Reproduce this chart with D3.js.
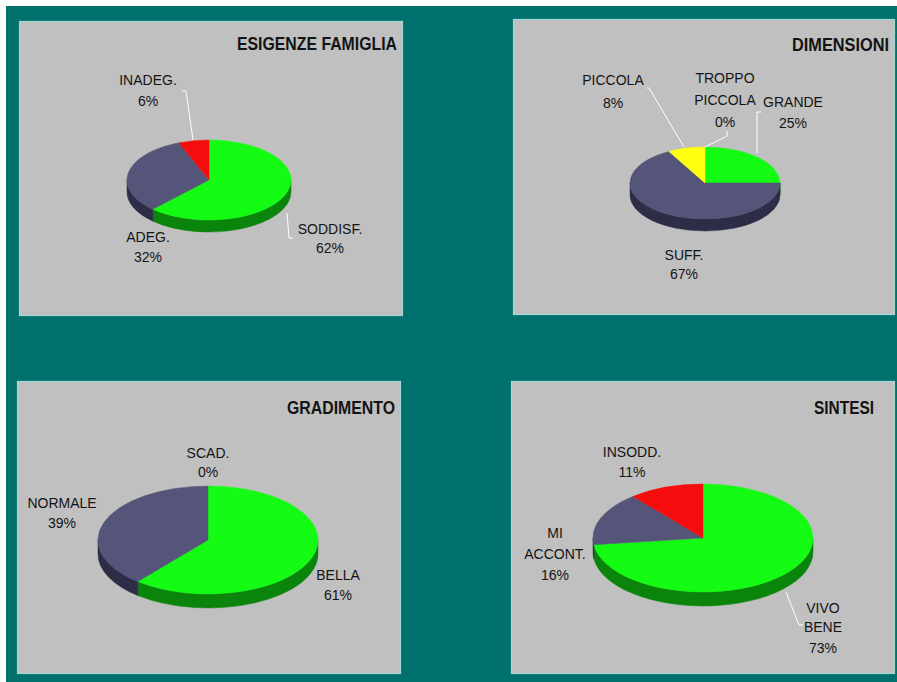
<!DOCTYPE html>
<meta charset="utf-8">
<head>
<style>
  body { margin: 0; background: #fff; }
  svg { display: block; }
  text { font-family: "Liberation Sans", Arial, sans-serif; fill: #141414; }
  .title { font-weight: bold; font-size: 17.5px; }
  .lbl { font-size: 14px; }
</style>
</head>
<body>
<script src="https://d3js.org/d3.v7.min.js"></script>
<script>
 // data
 const titles = ["ESIGENZE FAMIGLIA", "DIMENSIONI", "GRADIMENTO", "SINTESI"];

 const famigliaLabels = ["SODDISF.", "ADEG.", "INADEG."];
 const famigliaValues = [62, 32, 6];

 const dimensioniLabels = ["GRANDE", "SUFF.", "PICCOLA", "TROPPO\nPICCOLA"];
 const dimensioniValues = [25, 67, 8, 0];

 const gradimentoLabels = ["BELLA", "NORMALE", "SCAD."];
 const gradimentoValues = [61, 39, 0];

 const sintesiLabels = ["VIVO\nBENE", "MI\nACCONT.", "INSODD."];
 const sintesiValues = [73, 16, 11];

 // colours (top face, side face)
 const GREEN = ["#14fc14", "#0b840b"],
       NAVY = ["#55557a", "#2d2d47"],
       RED = ["#f50d0d", "#8a0a0a"],
       YELLOW = ["#ffff10", "#9a9a00"];

 // layout for each panel; title = [right x, baseline, width]
 const charts = [
   { labels: famigliaLabels, values: famigliaValues, colors: [GREEN, NAVY, RED],
     panel: [19, 21, 384, 295], title: [397, 50, 160],
     cx: 209, cy: 180, rx: 82, ry: 40, depth: 12,
     text: [{dx: 121, dy: [49, 68]}, {dx: -61, dy: [57, 77]}, {dx: -61, dy: [-100, -79]}],
     leaders: [[[78, 33], [80, 58], [84, 58]], null, [[-27, -89], [-23, -89], [-16, -40]]] },
   { labels: dimensioniLabels, values: dimensioniValues, colors: [GREEN, NAVY, YELLOW, RED],
     panel: [513, 19, 382, 296], title: [889, 51, 97],
     cx: 705, cy: 183, rx: 75, ry: 36, depth: 12,
     text: [{dx: 88, dy: [-81, -60]}, {dx: -21, dy: [72, 91]}, {dx: -92, dy: [-103, -80]}, {dx: 20, dy: [-105, -83, -61]}],
     leaders: [[[56, -71], [52, -71], [52, -30]], null, [[-58, -95], [-56, -95], [-21, -36]], [[22, -52], [22, -47], [0, -36]]] },
   { labels: gradimentoLabels, values: gradimentoValues, colors: [GREEN, NAVY, RED],
     panel: [17, 381, 384, 293], title: [395, 414, 108],
     cx: 208, cy: 540, rx: 110, ry: 54, depth: 14,
     text: [{dx: 130, dy: [35, 55]}, {dx: -146, dy: [-37, -17]}, {dx: 0, dy: [-87, -68]}],
     leaders: [null, null, null] },
   { labels: sintesiLabels, values: sintesiValues, colors: [GREEN, NAVY, RED],
     panel: [511, 381, 384, 293], title: [874, 414, 60],
     cx: 703, cy: 538, rx: 110, ry: 54, depth: 14,
     text: [{dx: 120, dy: [70, 89, 110]}, {dx: -148, dy: [-5, 16, 37]}, {dx: -71, dy: [-86, -66]}],
     leaders: [[[83, 54], [96, 87], [100, 87]], null, null] }
 ];

 const width = 897, height = 682;

 const svg = d3.select("body").append("svg")
               .attr("width", width)
               .attr("height", height);

 svg.append("rect").attr("x", 6).attr("y", 6)
    .attr("width", width - 6).attr("height", height - 6)
    .attr("fill", "#00716c");

 const pie = d3.pie().sort(null).value(d => d);

 charts.forEach((c, ci) => {
     const g = svg.append("g");
     const [px, py, pw, ph] = c.panel;

     g.append("rect")
      .attr("x", px + 0.5).attr("y", py + 0.5)
      .attr("width", pw - 1).attr("height", ph - 1)
      .attr("fill", "#c0c0c0")
      .attr("stroke", "#a4d6d3")
      .attr("stroke-width", 1.2);

     g.append("text")
      .attr("class", "title")
      .attr("x", c.title[0] - c.title[2]).attr("y", c.title[1])
      .attr("textLength", c.title[2])
      .attr("lengthAdjust", "spacingAndGlyphs")
      .text(titles[ci]);

     const arcs = pie(c.values);
     const {cx, cy, rx, ry, depth} = c;
     const pt = t => [cx + rx * Math.sin(t), cy - ry * Math.cos(t)];

     // side walls, only the front half of the ellipse is visible
     arcs.forEach((a, i) => {
         const t0 = Math.max(a.startAngle, Math.PI / 2),
               t1 = Math.min(a.endAngle, 3 * Math.PI / 2);
         if (t1 <= t0) return;
         const p0 = pt(t0), p1 = pt(t1);
         const d = `M${p0[0]},${p0[1]} A${rx},${ry} 0 0 1 ${p1[0]},${p1[1]}` +
                   ` L${p1[0]},${p1[1] + depth} A${rx},${ry} 0 0 0 ${p0[0]},${p0[1] + depth} Z`;
         g.append("path").attr("d", d)
          .attr("fill", c.colors[i][1])
          .attr("stroke", c.colors[i][1]).attr("stroke-width", 0.5);
     });

     // top face
     const arc = d3.arc().innerRadius(0).outerRadius(rx);
     g.append("g")
      .attr("transform", `translate(${cx},${cy}) scale(1,${ry / rx})`)
      .selectAll("path")
      .data(arcs.filter(a => a.value > 0))
      .join("path")
      .attr("d", arc)
      .attr("fill", d => c.colors[d.index][0])
      .attr("stroke", d => c.colors[d.index][0])
      .attr("stroke-width", 0.6);

     // leader lines
     c.leaders.forEach(l => {
         if (!l) return;
         g.append("polyline")
          .attr("points", l.map(p => [cx + p[0], cy + p[1]].join(",")).join(" "))
          .attr("fill", "none")
          .attr("stroke", "#ffffff")
          .attr("stroke-width", 1);
     });

     // labels
     arcs.forEach((a, i) => {
         const lines = c.labels[i].split("\n").concat([c.values[i] + "%"]);
         const pos = c.text[i];
         lines.forEach((s, k) => {
             g.append("text")
              .attr("class", "lbl")
              .attr("x", cx + pos.dx)
              .attr("y", cy + pos.dy[k] + 5)
              .attr("text-anchor", "middle")
              .text(s);
         });
     });
 });
</script>
</body>
